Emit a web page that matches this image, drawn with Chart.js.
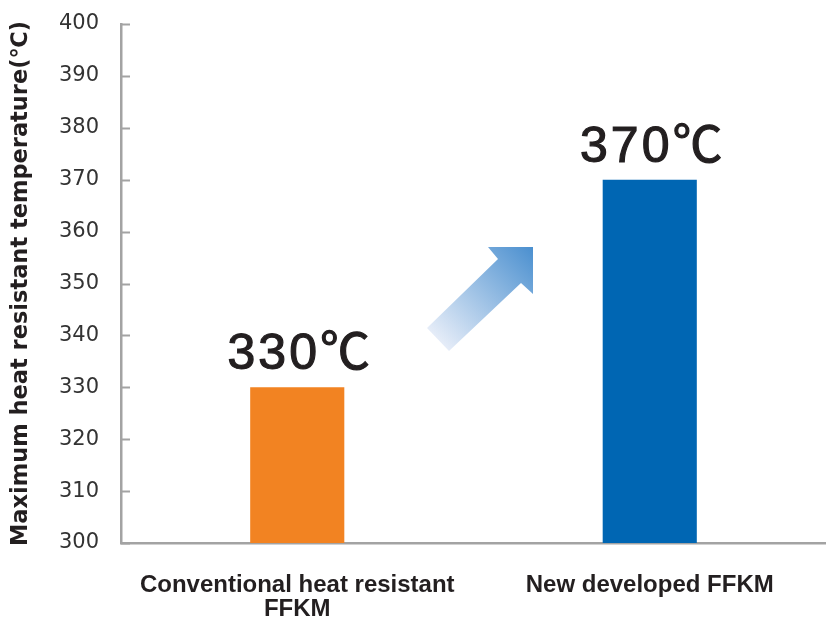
<!DOCTYPE html>
<html>
<head>
<meta charset="utf-8">
<script src="https://cdn.jsdelivr.net/npm/chart.js@4"></script>
<style>
  html, body { margin: 0; padding: 0; background: #fff; }
  #wrap { width: 826px; height: 619px; }
</style>
</head>
<body>
<div id="wrap"><canvas id="chart" width="826" height="619"></canvas></div>
<script>
/* heat resistance bar chart */
const categories = [['Conventional heat resistant', 'FFKM'], 'New developed FFKM'];
const temps = [330, 370];
const valueLabels = ['330℃', '370℃'];
const barColors = ['#f28322', '#0066b3'];
const yTicks = [300, 310, 320, 330, 340, 350, 360, 370, 380, 390, 400];
const yTitle = 'Maximum heat resistant temperature(℃)';

const AXIS_GREY = '#a3a3a3';

// short inward ticks on the y axis
const innerTicks = {
  id: 'innerTicks',
  afterDraw(chart) {
    const { ctx, chartArea, scales } = chart;
    ctx.save();
    ctx.strokeStyle = AXIS_GREY;
    ctx.lineWidth = 2;
    yTicks.forEach(v => {
      const y = Math.round(scales.y.getPixelForValue(v)) + 0.5;
      ctx.beginPath();
      ctx.moveTo(chartArea.left, y);
      ctx.lineTo(chartArea.left + 9, y);
      ctx.stroke();
    });
    ctx.restore();
  }
};

// big value labels over the bars
const valueTags = {
  id: 'valueTags',
  afterDatasetsDraw(chart) {
    const { ctx } = chart;
    const meta = chart.getDatasetMeta(0);
    ctx.save();
    ctx.fillStyle = '#231f20';
    ctx.strokeStyle = '#231f20';
    ctx.lineWidth = 1.2;
    ctx.font = '50px "Liberation Sans", "Noto Sans CJK JP", sans-serif';
    ctx.letterSpacing = '3px';
    ctx.textAlign = 'center';
    ctx.textBaseline = 'alphabetic';
    meta.data.forEach((bar, i) => {
      ctx.fillText(valueLabels[i], bar.x + 3, bar.y - 18);
      ctx.strokeText(valueLabels[i], bar.x + 3, bar.y - 18);
    });
    ctx.restore();
  }
};

// gradient arrow between the bars
const riseArrow = {
  id: 'riseArrow',
  afterDatasetsDraw(chart) {
    const { ctx, scales } = chart;
    const cx = scales.x.getPixelForValue(0.5);
    const cy = scales.y.getPixelForValue(347);
    const pts = [[-46.5, 29], [24.5, -40], [14.5, -52], [59.5, -52], [59.5, -5], [47.5, -16], [-24.5, 52]];
    const g = ctx.createLinearGradient(cx - 40, cy + 45, cx + 60, cy - 52);
    g.addColorStop(0, '#edf1fa');
    g.addColorStop(1, '#4a8fcf');
    ctx.save();
    ctx.fillStyle = g;
    ctx.beginPath();
    pts.forEach(([dx, dy], i) => i ? ctx.lineTo(cx + dx, cy + dy) : ctx.moveTo(cx + dx, cy + dy));
    ctx.closePath();
    ctx.fill();
    ctx.restore();
  }
};

new Chart(document.getElementById('chart'), {
  type: 'bar',
  data: {
    labels: categories,
    datasets: [{
      data: temps,
      backgroundColor: barColors,
      borderWidth: 0,
      barPercentage: 0.267,
      categoryPercentage: 1
    }]
  },
  options: {
    responsive: false,
    animation: false,
    layout: { padding: { top: 24, right: 0, left: 8, bottom: 0 } },
    plugins: { legend: { display: false }, tooltip: { enabled: false } },
    scales: {
      x: {
        grid: { display: false, drawTicks: false },
        border: { color: AXIS_GREY, width: 2.5 },
        ticks: {
          color: '#231f20',
          padding: 30,
          font: { family: '"Liberation Sans", Arial, sans-serif', size: 24, weight: 'bold', lineHeight: 1.0 }
        },
        afterFit(s) { s.height = 76; }
      },
      y: {
        min: 300,
        max: 400,
        afterBuildTicks(s) { s.ticks = yTicks.map(v => ({ value: v })); },
        grid: { display: false, drawTicks: false },
        border: { color: AXIS_GREY, width: 2.5 },
        ticks: {
          color: '#333333',
          padding: 22,
          font: { family: '"DejaVu Sans", sans-serif', size: 21 }
        },
        title: {
          display: true,
          text: yTitle,
          color: '#231f20',
          padding: { top: 0, bottom: 9 },
          font: { family: '"DejaVu Sans", sans-serif', size: 22.5, weight: 'bold' }
        },
        afterFit(s) {
          s.width = 113;
          s.paddingTop = 0;
          s.paddingBottom = 0;
        }
      }
    }
  },
  plugins: [innerTicks, valueTags, riseArrow]
});
</script>
</body>
</html>
